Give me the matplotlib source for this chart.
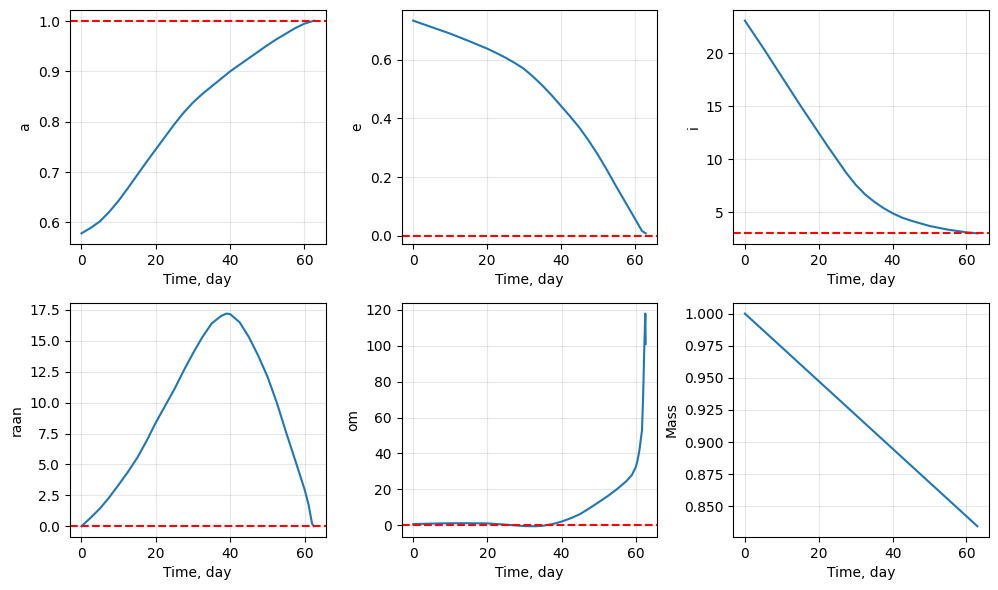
import matplotlib
matplotlib.use("Agg")
import matplotlib.pyplot as plt
import numpy as np

# values, time in days
t_a = [0, 2.5, 5, 7.5, 10, 12.5, 15, 17.5, 20, 22.5, 25, 27.5, 30, 32.5, 35,
       37.5, 40, 42.5, 45, 47.5, 50, 52.5, 55, 57.5, 60, 62.6]
a = [0.578, 0.589, 0.602, 0.621, 0.643, 0.668, 0.694, 0.720, 0.745, 0.770,
     0.795, 0.818, 0.838, 0.855, 0.870, 0.885, 0.900, 0.913, 0.926, 0.939,
     0.952, 0.964, 0.975, 0.986, 0.995, 1.001]

t_e = [0, 5, 10, 15, 20, 22.5, 25, 27.5, 30, 32.5, 35, 37.5, 40, 42.5, 45,
       47.5, 50, 52.5, 55, 57.5, 60, 61, 62, 63]
e = [0.733, 0.711, 0.689, 0.664, 0.638, 0.623, 0.607, 0.589, 0.569, 0.542,
     0.512, 0.479, 0.443, 0.407, 0.369, 0.325, 0.277, 0.224, 0.168, 0.114,
     0.060, 0.038, 0.016, 0.008]

t_i = [0, 5, 10, 15, 20, 22.5, 25, 27.5, 30, 32.5, 35, 37.5, 40, 42.5, 45,
       47.5, 50, 55, 60, 63]
inc = [23.1, 20.5, 17.8, 15.1, 12.5, 11.2, 9.95, 8.7, 7.6, 6.7, 6.0, 5.4,
       4.9, 4.5, 4.2, 3.95, 3.7, 3.35, 3.1, 3.0]

t_raan = [0, 2.5, 5, 7.5, 10, 12.5, 15, 17.5, 20, 22.5, 25, 27.5, 30, 32.5,
          35, 37.5, 39, 40, 42.5, 45, 47.5, 50, 52.5, 55, 57.5, 60, 61, 62,
          62.5]
raan = [0.0, 0.7, 1.45, 2.35, 3.36, 4.4, 5.54, 6.9, 8.4, 9.75, 11.1, 12.6,
        14.0, 15.3, 16.4, 17.0, 17.2, 17.15, 16.5, 15.3, 13.8, 12.1, 10.0,
        7.6, 5.3, 2.95, 1.8, 0.2, 0.0]

t_om = [0, 5, 10, 15, 20, 25, 30, 33, 35, 37.5, 40, 42.5, 45, 47.5, 50, 52.5,
        55, 57.5, 59, 60, 60.5, 61, 61.4, 61.7, 62, 62.3, 62.6, 62.7]
om = [0.5, 0.8, 1.0, 1.0, 0.9, 0.2, -0.6, -0.7, -0.4, 0.5, 1.9, 3.8, 6.1,
      9.3, 12.7, 16.2, 20.1, 24.5, 28.0, 32.2, 36.0, 41.6, 48.0, 52.7, 71.0,
      97.0, 118.0, 101.0]

t_m = [0, 62.95]
mass = [1.000, 0.8344]

targets = {"a": 1.0, "e": 0.0, "i": 3.0, "raan": 0.0, "om": 0.0, "Mass": None}

panels = [("a", t_a, a), ("e", t_e, e), ("i", t_i, inc),
          ("raan", t_raan, raan), ("om", t_om, om), ("Mass", t_m, mass)]

fig, axes = plt.subplots(2, 3, figsize=(9.98, 5.9), dpi=100)
for ax, (name, t, y) in zip(axes.flat, panels):
    ax.plot(t, y, color="tab:blue")
    if targets[name] is not None:
        ax.axhline(targets[name], color="red", linestyle="--")
    ax.set_xlabel("Time, day")
    ax.set_ylabel(name)
    ax.grid(alpha=0.3)
    ax.set_xticks([0, 20, 40, 60])

axes[0, 1].set_yticks([0.0, 0.2, 0.4, 0.6])

plt.subplots_adjust(left=0.070, right=0.991, top=0.983, bottom=0.090,
                    wspace=0.297, hspace=0.252)
plt.savefig("out.png")
